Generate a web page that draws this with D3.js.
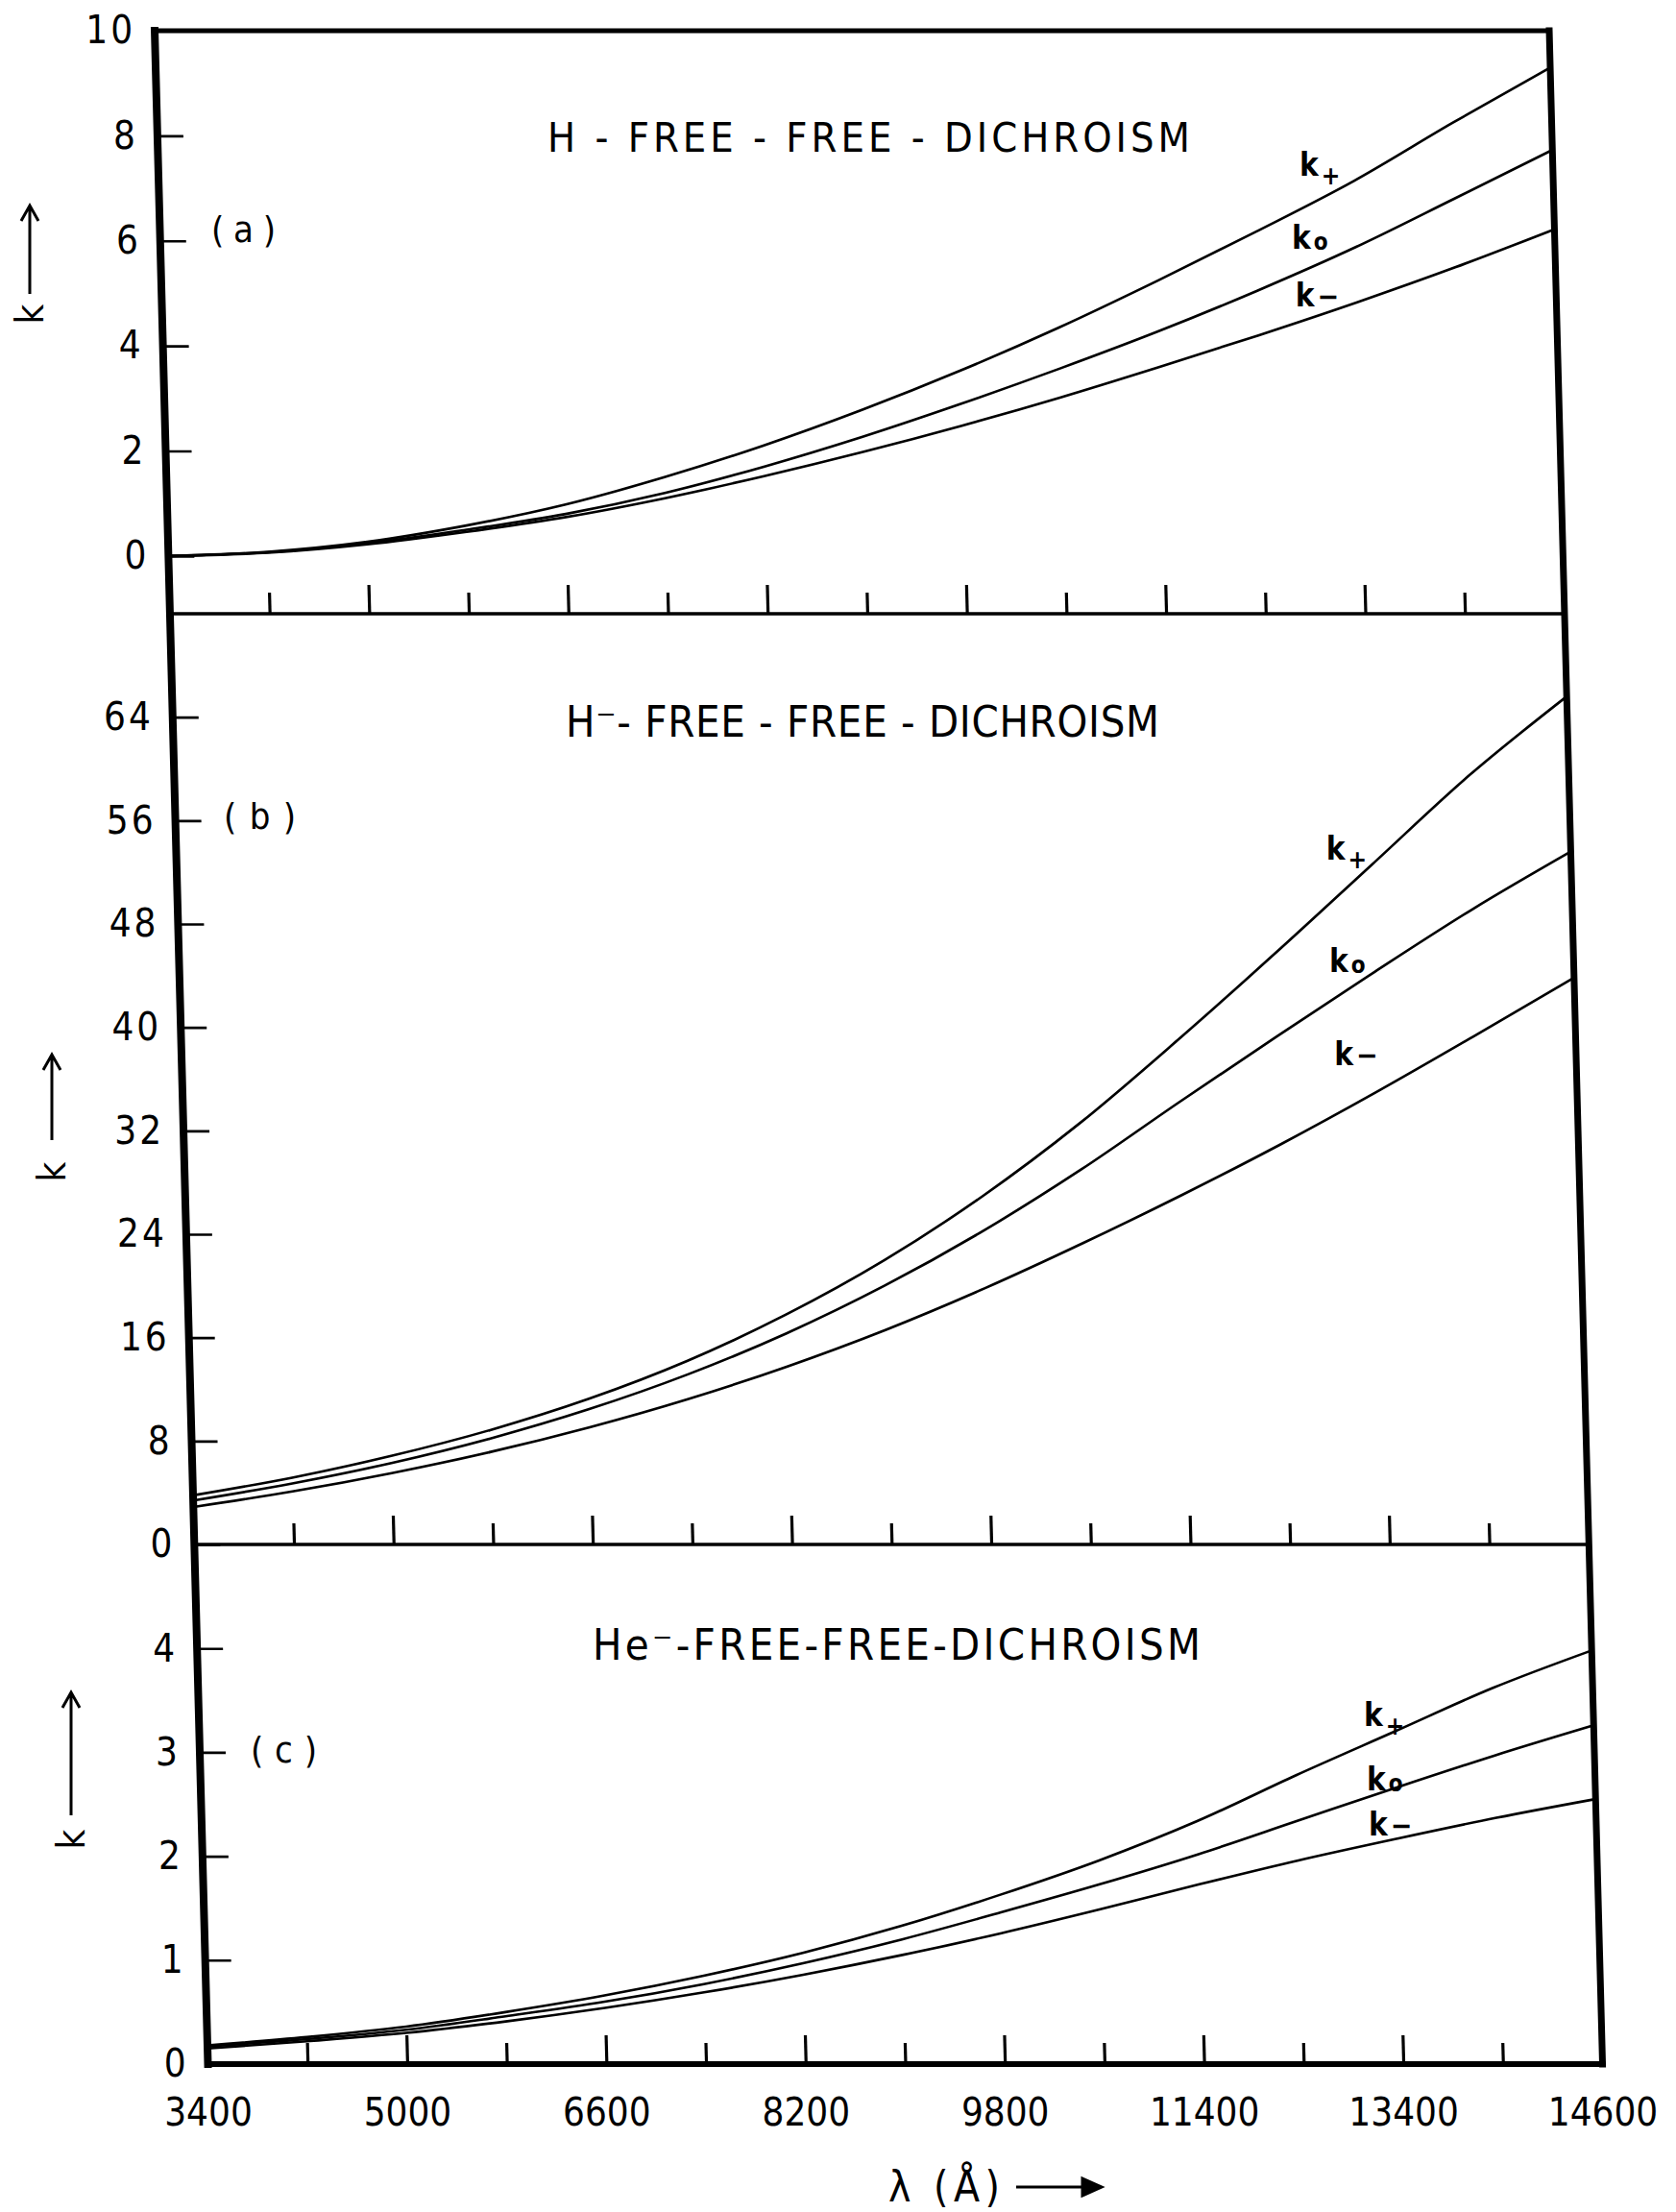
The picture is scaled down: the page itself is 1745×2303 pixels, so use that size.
<!DOCTYPE html>
<html>
<head>
<meta charset="utf-8">
<script src="https://cdn.jsdelivr.net/npm/d3@7"></script>
<style>
  html, body { margin: 0; padding: 0; background: #fff; }
  svg { display: block; }
  text { fill: #000; }
</style>
</head>
<body>
<svg id="chart" width="1745" height="2303"></svg>
<script>
// Wavelength grid (Å) shared by all three panels
const lambda = [3400, 4200, 5000, 5800, 6600, 7400, 8200, 9000, 9800, 10600, 11400, 12200, 13000, 13800, 14600];

// (a) H free-free dichroism
const hKplus  = [0, 0.08, 0.27, 0.58, 0.98, 1.50, 2.10, 2.78, 3.53, 4.35, 5.24, 6.17, 7.14, 8.24, 9.30];
const hKzero  = [0, 0.07, 0.24, 0.50, 0.80, 1.20, 1.70, 2.27, 2.90, 3.57, 4.28, 5.05, 5.88, 6.80, 7.73];
const hKminus = [0, 0.06, 0.22, 0.46, 0.74, 1.10, 1.52, 1.98, 2.48, 3.02, 3.60, 4.20, 4.83, 5.50, 6.22];

// (b) H⁻ free-free dichroism
const hmKplus  = [3.8, 5.17, 6.85, 8.85, 11.27, 14.21, 17.78, 21.98, 26.92, 32.59, 38.99, 45.69, 52.59, 59.49, 65.6];
const hmKzero  = [3.4, 4.72, 6.30, 8.20, 10.47, 13.16, 16.33, 20.03, 24.25, 29.00, 34.20, 39.30, 44.30, 49.15, 53.6];
const hmKminus = [2.9, 4.10, 5.52, 7.16, 9.07, 11.26, 13.77, 16.61, 19.81, 23.31, 27.01, 30.91, 35.06, 39.41, 43.85];

// (c) He⁻ free-free dichroism
const heKplus  = [0.18, 0.26, 0.36, 0.50, 0.66, 0.85, 1.07, 1.33, 1.63, 1.96, 2.34, 2.78, 3.20, 3.62, 3.98];
const heKzero  = [0.17, 0.24, 0.33, 0.46, 0.60, 0.77, 0.97, 1.20, 1.46, 1.73, 2.02, 2.34, 2.66, 2.97, 3.26];
const heKminus = [0.15, 0.22, 0.30, 0.41, 0.54, 0.69, 0.86, 1.05, 1.26, 1.49, 1.73, 1.96, 2.17, 2.37, 2.55];

// Axis ticks and labels
const xTickValues = [3400, 5000, 6600, 8200, 9800, 11400, 13000, 14600];
const xTickLabels = ["3400", "5000", "6600", "8200", "9800", "11400", "13400", "14600"];
const xMajorInner = [5000, 6600, 8200, 9800, 11400, 13000];
const xMinorInner = [4200, 5800, 7400, 9000, 10600, 12200, 13800];
const yTicksA = [0, 2, 4, 6, 8, 10];
const yTicksB = [0, 8, 16, 24, 32, 40, 48, 56, 64];
const yTicksC = [0, 1, 2, 3, 4];

const panelTitles = ["H - FREE - FREE - DICHROISM", "H\u207B- FREE - FREE - DICHROISM", "He\u207B-FREE-FREE-DICHROISM"];
const panelTags = ["( a )", "( b )", "( c )"];
const curveSubs = ["+", "o", "\u2212"];

// Curve-label anchors in data units (λ, k) for each panel
const labelLambdaA = [12563, 12486, 12504];
const labelKA = [7.24, 5.85, 4.75];
const labelLambdaB = [12633, 12635, 12656];
const labelKB = [52.98, 44.28, 37.08];
const labelLambdaC = [12754, 12764, 12769];
const labelKC = [3.25, 2.63, 2.20];

const FONT = "'DejaVu Sans Condensed', 'DejaVu Sans', sans-serif";

// The drawn frame leans slightly: left edge shifts right going down the page.
const W = 1452, X0 = 160.2, SHEAR = 0.0262;
const ANG = Math.atan(SHEAR) * 180 / Math.PI;
const TOP = 32, BOTTOM = 2149;

const svg = d3.select("#chart");
const x = d3.scaleLinear().domain([3400, 14600]).range([0, W]);

const panels = [
  { top: 32,   bottom: 639,  domain: [-1.1, 10], ticks: yTicksA, series: [hKplus, hKzero, hKminus],
    labL: labelLambdaA, labK: labelKA },
  { top: 639,  bottom: 1608, domain: [0, 72],    ticks: yTicksB, series: [hmKplus, hmKzero, hmKminus],
    labL: labelLambdaB, labK: labelKB },
  { top: 1608, bottom: 2149, domain: [0, 5],     ticks: yTicksC, series: [heKplus, heKzero, heKminus],
    labL: labelLambdaC, labK: labelKC }
];

const frame = svg.append("g")
  .attr("transform", `matrix(1,0,${SHEAR},1,${X0},0)`);

panels.forEach((p, pi) => {
  const y = d3.scaleLinear().domain(p.domain).range([p.bottom, p.top]);
  const line = d3.line()
    .x((d, i) => x(lambda[i]))
    .y(d => y(d))
    .curve(d3.curveMonotoneX);

  // curves
  frame.append("g")
    .selectAll("path")
    .data(p.series)
    .join("path")
    .attr("d", d => line(d))
    .attr("fill", "none")
    .attr("stroke", "#000")
    .attr("stroke-width", 2.6);

  // y axis: ticks point inward, numbers on the outside
  const ya = frame.append("g")
    .call(d3.axisLeft(y).tickValues(p.ticks).tickSize(-27).tickPadding(20).tickFormat(d3.format("d")));
  ya.select(".domain").remove();
  ya.attr("font-family", FONT).attr("font-size", 40);
  ya.selectAll(".tick line").attr("stroke", "#000").attr("stroke-width", 2.6);
  ya.selectAll(".tick text")
    .attr("letter-spacing", 3)
    .attr("transform", `skewX(${-ANG})`);

  // inward ticks along each panel's base line
  const xa1 = frame.append("g").attr("transform", `translate(0,${p.bottom})`)
    .call(d3.axisBottom(x).tickValues(xMajorInner).tickSize(-30).tickFormat(""));
  const xa2 = frame.append("g").attr("transform", `translate(0,${p.bottom})`)
    .call(d3.axisBottom(x).tickValues(xMinorInner).tickSize(-22).tickFormat(""));
  [xa1, xa2].forEach(a => {
    a.select(".domain").remove();
    a.selectAll(".tick line").attr("stroke", "#000").attr("stroke-width", 3.2);
  });

  // curve labels k+, ko, k−
  const lab = frame.append("g").attr("font-family", FONT).attr("font-weight", "bold");
  p.series.forEach((s, si) => {
    const t = lab.append("text")
      .attr("transform", `translate(${x(p.labL[si])},${y(p.labK[si])}) skewX(${-ANG})`)
      .attr("font-size", 33);
    t.append("tspan").text("k");
    const sub = t.append("tspan").text(curveSubs[si]).attr("dx", 3);
    if (si === 0) sub.attr("font-size", 26).attr("dy", 9);
    else if (si === 1) sub.attr("font-size", 24).attr("dy", 1);
    else sub.attr("font-size", 30).attr("dy", 0);
  });
});

// frame lines
const frameLines = [
  { x1: 0, y1: TOP, x2: 0, y2: BOTTOM, w: 8 },
  { x1: W, y1: TOP, x2: W, y2: BOTTOM, w: 7 },
  { x1: 0, y1: TOP, x2: W, y2: TOP, w: 5 },
  { x1: 0, y1: 639, x2: W, y2: 639, w: 3.5 },
  { x1: 0, y1: 1608, x2: W, y2: 1608, w: 3.5 },
  { x1: 0, y1: BOTTOM, x2: W, y2: BOTTOM, w: 6 }
];
frame.append("g").selectAll("line").data(frameLines).join("line")
  .attr("x1", d => d.x1).attr("y1", d => d.y1)
  .attr("x2", d => d.x2).attr("y2", d => d.y2)
  .attr("stroke", "#000").attr("stroke-width", d => d.w)
  .attr("stroke-linecap", "square");

// wavelength labels under the bottom panel
const xb = svg.append("g")
  .attr("transform", `translate(${X0 + SHEAR * BOTTOM},${BOTTOM})`)
  .call(d3.axisBottom(x).tickValues(xTickValues)
    .tickFormat((d, i) => xTickLabels[i]).tickSize(0).tickPadding(35.6));
xb.select(".domain").remove();
xb.attr("font-family", FONT).attr("font-size", 40);

// panel titles and tags
const titleSpec = [
  { x: 570, y: 158,  len: 669, size: 43 },
  { x: 589, y: 767,  len: 618, size: 45 },
  { x: 617, y: 1728, len: 633, size: 45 }
];
svg.append("g").attr("font-family", FONT)
  .selectAll("text").data(titleSpec).join("text")
  .attr("x", d => d.x).attr("y", d => d.y)
  .attr("font-size", d => d.size)
  .attr("textLength", d => d.len).attr("lengthAdjust", "spacing")
  .text((d, i) => panelTitles[i]);

const tagSpec = [
  { x: 220, y: 252,  len: 67 },
  { x: 233, y: 863,  len: 75 },
  { x: 261, y: 1835, len: 69 }
];
svg.append("g").attr("font-family", FONT)
  .selectAll("text").data(tagSpec).join("text")
  .attr("x", d => d.x).attr("y", d => d.y)
  .attr("font-size", 38)
  .attr("textLength", d => d.len).attr("lengthAdjust", "spacing")
  .text((d, i) => panelTags[i]);

// rotated "k" with upward arrow on the left of each panel
function kArrow(cx, kY, yFrom, yTo) {
  const g = svg.append("g");
  g.append("text")
    .attr("transform", `translate(${cx + 14},${kY}) rotate(-90)`)
    .attr("text-anchor", "middle")
    .attr("font-family", FONT).attr("font-size", 40)
    .text("k");
  g.append("path")
    .attr("d", `M${cx},${yFrom}V${yTo}M${cx - 9},${yTo + 16}L${cx},${yTo}L${cx + 9},${yTo + 16}`)
    .attr("fill", "none").attr("stroke", "#000").attr("stroke-width", 3);
}
kArrow(31, 327, 306, 214);
kArrow(54, 1220, 1187, 1098);
kArrow(74, 1915, 1890, 1762);

// wavelength axis title with arrow
svg.append("text")
  .attr("x", 925).attr("y", 2292)
  .attr("font-family", FONT).attr("font-size", 44)
  .attr("textLength", 116).attr("lengthAdjust", "spacing")
  .text("\u03BB (\u00C5)");
svg.append("path")
  .attr("d", "M1058,2277H1145M1127,2268L1147,2277L1127,2286Z")
  .attr("fill", "#000").attr("stroke", "#000").attr("stroke-width", 3);
</script>
</body>
</html>
